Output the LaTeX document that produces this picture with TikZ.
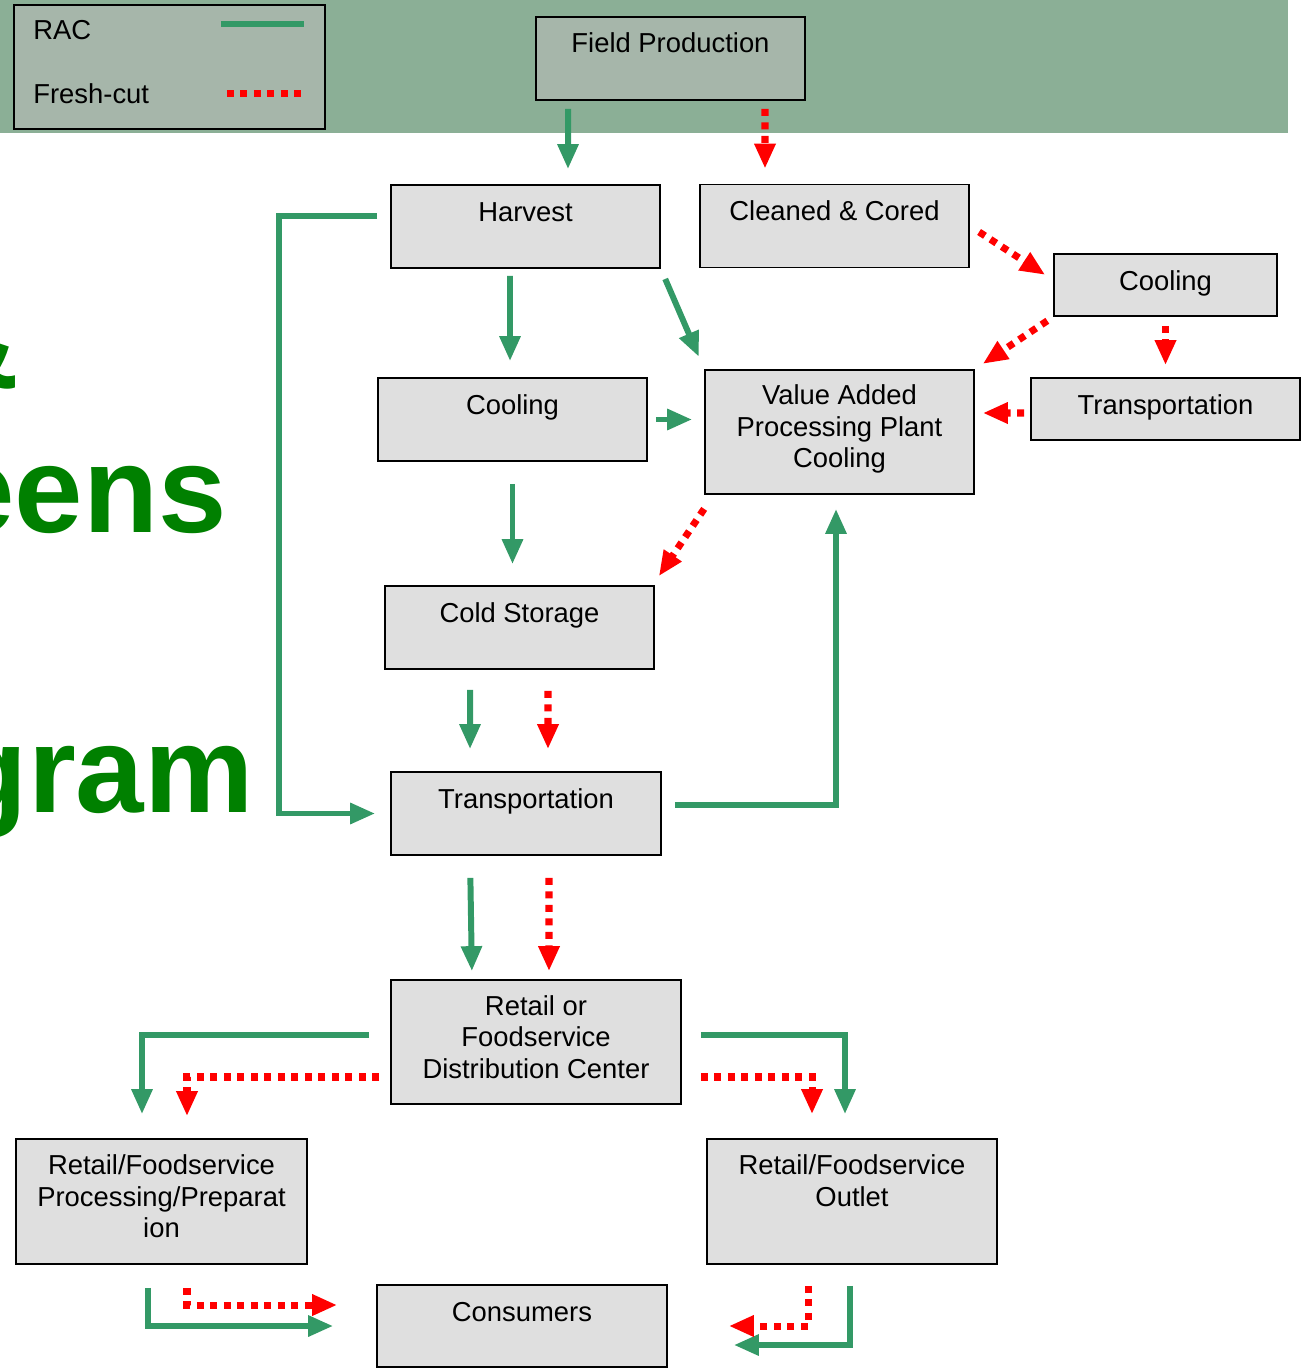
\documentclass[tikz,border=0pt]{standalone}
\usepackage{fontspec}
\setmainfont{Liberation Sans}
\usetikzlibrary{arrows.meta}
\definecolor{racgreen}{HTML}{339966}
\definecolor{cutred}{HTML}{FF0000}
\definecolor{bandgreen}{HTML}{8BAF96}
\definecolor{keygray}{HTML}{A6B6AA}
\definecolor{boxgray}{HTML}{DFDFDF}
\definecolor{titlegreen}{HTML}{008000}
\newcommand{\boxfont}{\fontsize{15.6}{17.9}\selectfont}
\newcommand{\lift}[1]{\rule[-#1]{0pt}{#1}}
\tikzstyle{rac} = [draw=racgreen, line width=3.4pt, -{Triangle[width=0.4cm,length=0.5cm]}]
\tikzstyle{cut} = [draw=cutred, line width=4pt, dash pattern=on 0.14cm off 0.13cm, -{Triangle[width=0.4cm,length=0.5cm]}]
\tikzstyle{stage} = [draw=black, line width=1pt, fill=boxgray, font=\boxfont, inner sep=0pt, minimum width=5.38cm, align=center]
\tikzstyle{tall} = [stage, text height=0.72cm, text depth=0.94cm]
\tikzstyle{flat} = [stage, text height=0.72cm, text depth=0.52cm]
\tikzstyle{block} = [stage, minimum height=2.48cm]
\tikzstyle{title} = [font=\fontsize{70}{72}\selectfont\bfseries, text=titlegreen, inner sep=0pt, anchor=base east]

\begin{document}
\begin{tikzpicture}[x=0.02cm, y=-0.02cm]
                \useasboundingbox (0,0) rectangle (1311,1372);
                \fill[bandgreen] (0,0) rectangle (1288,133);

                % legend
                \node (legend) [draw=black, line width=1pt, fill=keygray, minimum width=6.22cm, minimum height=2.48cm, inner sep=0pt] at (169.5,67) {};
                \node (keyrac) [font=\boxfont, anchor=base west, inner sep=0pt] at (33,40) {RAC};
                \node (keycut) [font=\boxfont, anchor=base west, inner sep=0pt] at (33,104) {Fresh-cut};
                \draw [racgreen, line width=3.4pt] ([shift={(1.03cm,-0.4cm)}]legend.north) -- ([shift={(2.69cm,-0.4cm)}]legend.north);
                \draw [cutred, line width=4pt, dash pattern=on 0.14cm off 0.13cm] ([shift={(1.15cm,-1.78cm)}]legend.north) -- ([shift={(2.65cm,-1.78cm)}]legend.north);

                % title (cut off at the left)
                \node (tamp) [title] at (20,388) {\&};
                \node (tgreens) [title] at (227,532) {eens};
                \node (tgram) [title] at (254,812) {gram};

                % stages
                \node (field) [tall, fill=keygray] at (670.5,58.5) {Field Production};
                \node (harv) [tall] at (525.5,226.5) {Harvest};
                \node (clean) [tall] at (834.5,226) {Cleaned \& Cored};
                \node (coolR) [flat, minimum width=4.46cm] at (1165.5,285) {Cooling};
                \node (transR) [flat] at (1165.5,409) {Transportation};
                \node (coolL) [tall] at (512.5,419.5) {Cooling};
                \node (vap) [block] at (839.5,432) {Value Added\\Processing Plant\\Cooling\lift{0.22cm}};
                \node (cold) [tall] at (519.5,627.5) {Cold Storage};
                \node (trans) [tall, minimum width=5.4cm] at (526,813.5) {Transportation};
                \node (dc) [block, minimum width=5.8cm] at (536,1042) {Retail or\\Foodservice\\Distribution Center\lift{0.2cm}};
                \node (prep) [block, minimum width=5.82cm, minimum height=2.5cm] at (161.5,1201.5) {Retail/Foodservice\\Processing/Preparat\\ion\lift{0.2cm}};
                \node (outlet) [block, minimum width=5.8cm, minimum height=2.5cm] at (852,1201.5) {Retail/Foodservice\\Outlet\\~\lift{0.2cm}};
                \node (cons) [tall, minimum width=5.8cm, text depth=0.92cm] at (522,1326) {Consumers};

                % RAC flow
                \draw [rac, shorten <=0.16cm, shorten >=0.3cm] ([xshift=-2.05cm]field.south) -- ([xshift=0.85cm]harv.north);
                \draw [rac, shorten <=0.14cm, shorten >=0.32cm] ([xshift=-0.31cm]harv.south) -- ([xshift=-0.05cm]coolL.north);
                \draw [rac, shorten <=0.22cm, shorten >=0.27cm] (harv.south east) -- (vap.north west);
                \draw [rac, shorten <=0.26cm, shorten >=0.3cm] ([yshift=0.21cm]harv.west) -- ++(-2.22cm,0) |- (trans.west);
                \draw [rac, shorten <=0.16cm, shorten >=0.24cm] (coolL.east) -- (coolL.east -| vap.west);
                \draw [rac, shorten <=0.44cm, shorten >=0.42cm] (coolL.south) -- (coolL.south |- cold.north);
                \draw [rac, shorten <=0.4cm, shorten >=0.44cm] ([xshift=-0.99cm]cold.south) -- ([xshift=-1.12cm]trans.north);
                \draw [rac, shorten <=0.26cm, shorten >=0.28cm] ([yshift=0.17cm]trans.east) -| ([xshift=-0.07cm]vap.south);
                \draw [rac, shorten <=0.44cm, shorten >=0.16cm] ([xshift=-1.12cm]trans.south) -- ([xshift=-1.28cm]dc.north);
                \draw [rac, shorten <=0.42cm, shorten >=0.48cm] ([yshift=0.14cm]dc.west) -| ([xshift=-0.39cm]prep.north);
                \draw [rac, shorten <=0.38cm, shorten >=0.48cm] ([yshift=0.14cm]dc.east) -| ([xshift=-0.14cm]outlet.north);
                \draw [rac, shorten <=0.46cm, shorten >=0.86cm] ([xshift=-0.27cm]prep.south) |- (cons.west);
                \draw [rac, shorten <=0.42cm, shorten >=1.32cm] ([xshift=-0.04cm]outlet.south) |- ([yshift=-0.38cm]cons.east);

                % fresh-cut flow
                \draw [cut, shorten <=0.16cm, shorten >=0.3cm] ([xshift=1.89cm]field.south) -- ([xshift=-1.39cm]clean.north);
                \draw [cut, shorten <=0.22cm, shorten >=0.19cm] (clean.east) -- ([yshift=0.1cm]coolR.west);
                \draw [cut, shorten <=0.14cm, shorten >=0.19cm] (coolR.south west) -- (vap.north east);
                \draw [cut, shorten <=0.18cm, shorten >=0.24cm] (coolR.south) -- (transR.north);
                \draw [cut, shorten <=0.12cm, shorten >=0.16cm] ([yshift=-0.08cm]transR.west) -- ([yshift=0.38cm]vap.east);
                \draw [cut] ([yshift=-0.28cm]vap.south west) -- ([shift={(0.08cm,0.18cm)}]cold.north east);
                \draw [cut, shorten <=0.42cm, shorten >=0.44cm] ([xshift=0.57cm]cold.south) -- ([xshift=0.44cm]trans.north);
                \draw [cut, shorten <=0.44cm, shorten >=0.16cm] ([xshift=0.46cm]trans.south) -- ([xshift=0.26cm]dc.north);
                \draw [cut, shorten <=0.22cm, shorten >=0.44cm] ([yshift=-0.7cm]dc.west) -| ([xshift=0.51cm]prep.north);
                \draw [cut, shorten <=0.38cm, shorten >=0.48cm] ([yshift=-0.7cm]dc.east) -| ([xshift=-0.8cm]outlet.north);
                \draw [cut, shorten <=0.46cm, shorten >=0.78cm] ([xshift=0.51cm]prep.south) |- ([yshift=0.42cm]cons.west);
                \draw [cut, shorten <=0.42cm, shorten >=1.22cm] ([xshift=-0.88cm]outlet.south) |- (cons.east);
            \end{tikzpicture}
\end{document}
